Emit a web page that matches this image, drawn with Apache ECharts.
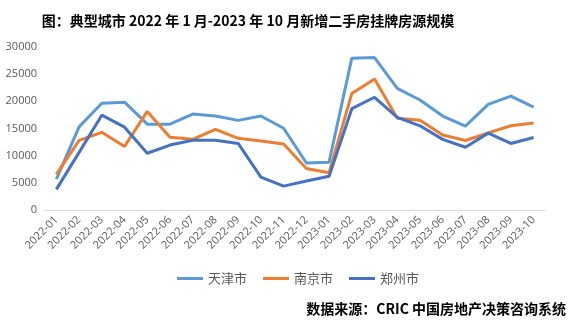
<!DOCTYPE html>
<html><head><meta charset="utf-8">
<script src="https://cdn.jsdelivr.net/npm/echarts@6/dist/echarts.min.js"></script>
<style>html,body{margin:0;padding:0;background:#fff}#c{width:577px;height:321px}</style>
</head><body><div id="c"></div>
<script>
const categories = ["2022-01","2022-02","2022-03","2022-04","2022-05","2022-06","2022-07","2022-08","2022-09","2022-10","2022-11","2022-12","2023-01","2023-02","2023-03","2023-04","2023-05","2023-06","2023-07","2023-08","2023-09","2023-10"];
const tianjin = [5700,15300,19650,19850,15800,15800,17650,17300,16500,17300,15050,8650,8800,27950,28050,22400,20250,17300,15450,19450,20950,18950];
const nanjing = [6550,12800,14300,11700,18150,13400,13000,14850,13200,12700,12150,7650,6850,21450,24100,16900,16500,13800,12800,14200,15500,16000];
const zhengzhou = [3800,10600,17450,15250,10450,11950,12850,12850,12250,6050,4400,5350,6200,18650,20750,17050,15500,13000,11550,14150,12250,13350];
const yTicks = {min:0, max:30000, interval:5000};
const names = ["天津市","南京市","郑州市"];
const colors = ["#5B9BD5","#ED7D31","#4472C4"];

const chart = echarts.init(document.getElementById('c'));
const mk = (name, data, color) => ({
  name, type:'line', data, symbol:'none', smooth:false,
  lineStyle:{width:3, color}, itemStyle:{color}
});
chart.setOption({
  animation:false,
  title:[
    {text:'图：典型城市 2022 年 1 月-2023 年 10 月新增二手房挂牌房源规模', left:243, top:9, textAlign:'center',
     textStyle:{fontFamily:'"Noto Sans CJK SC"', fontWeight:'bold', fontSize:14, color:'#000'}},
    {text:'数据来源：CRIC 中国房地产决策咨询系统', right:6, top:297,
     textStyle:{fontFamily:'"Noto Sans CJK SC"', fontWeight:'bold', fontSize:14, color:'#000'}}
  ],
  legend:{
    top:267, left:172, itemWidth:26, itemHeight:3, itemGap:16,
    icon:'rect',
    textStyle:{color:'#595959', fontSize:13, fontFamily:'"Noto Sans CJK SC"'},
    data:names
  },
  grid:{left:45, right:32, top:47, bottom:111},
  xAxis:{
    type:'category', data:categories, boundaryGap:true,
    axisLine:{lineStyle:{color:'#D9D9D9'}}, axisTick:{show:false},
    axisLabel:{rotate:45, interval:0, color:'#595959', fontSize:11, fontFamily:'"Open Sans"', margin:8}
  },
  yAxis:{
    type:'value', min:yTicks.min, max:yTicks.max, interval:yTicks.interval,
    splitLine:{show:false}, axisLine:{show:false}, axisTick:{show:false},
    axisLabel:{color:'#595959', fontSize:11, fontFamily:'"Open Sans"', margin:8, formatter:v => String(v)}
  },
  series:[mk(names[0], tianjin, colors[0]), mk(names[1], nanjing, colors[1]), mk(names[2], zhengzhou, colors[2])]
});
</script></body></html>
